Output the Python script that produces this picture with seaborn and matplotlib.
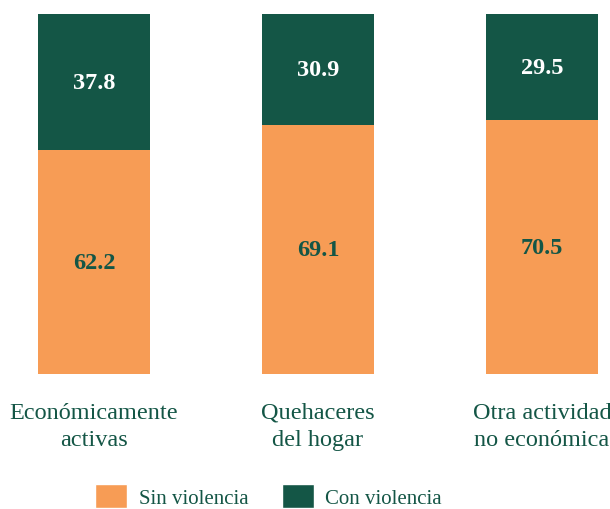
import pandas as pd
import matplotlib.pyplot as plt
import seaborn as sns
from matplotlib.patches import Patch

# === Data ===
categories = ["Económicamente\nactivas", "Quehaceres\ndel hogar", "Otra actividad\nno económica"]
sin_violencia = [62.2, 69.1, 70.5]
con_violencia = [37.8, 30.9, 29.5]

ORANGE = "#F79C55"
GREEN = "#145646"

df = pd.DataFrame({
    "categoria": categories,
    "sin": sin_violencia,
    "con": con_violencia,
})
df["total"] = df["sin"] + df["con"]

sns.set_style("white")
plt.rcParams["font.family"] = ["Liberation Serif", "DejaVu Serif"]

fig = plt.figure(figsize=(6.1, 5.1), dpi=100)
ax = fig.add_axes([0, 135 / 510, 1, 360 / 510])

# stacked bars: full height in green, then orange bottom part in front
sns.barplot(data=df, x="categoria", y="total", color=GREEN, width=0.5,
            saturation=1, linewidth=0, ax=ax)
sns.barplot(data=df, x="categoria", y="sin", color=ORANGE, width=0.5,
            saturation=1, linewidth=0, ax=ax)

for i, row in df.iterrows():
    ax.text(i, row["sin"] / 2, f"{row['sin']:.1f}", ha="center", va="center",
            fontsize=17.5, fontweight="bold", color=GREEN)
    ax.text(i, row["sin"] + row["con"] / 2, f"{row['con']:.1f}", ha="center",
            va="center", fontsize=17.5, fontweight="bold", color="white")

ax.set_xlim(-0.42, 2.304)
ax.set_ylim(0, 100)
ax.set_xlabel("")
ax.set_ylabel("")
ax.set_yticks([])
ax.tick_params(axis="x", length=0, pad=20, labelsize=17.5, labelcolor=GREEN)
for lbl in ax.get_xticklabels():
    lbl.set_linespacing(1.4)
sns.despine(ax=ax, left=True, bottom=True)

handles = [Patch(facecolor=ORANGE, label="Sin violencia"),
           Patch(facecolor=GREEN, label="Con violencia")]
leg = fig.legend(handles=handles, loc="center", bbox_to_anchor=(0.44, 13 / 510),
                 ncol=2, frameon=False, fontsize=15, handlelength=1.55,
                 handleheight=1.4, columnspacing=1.6, handletextpad=0.55)
for t in leg.get_texts():
    t.set_color(GREEN)

fig.savefig("out.png", dpi=100)
